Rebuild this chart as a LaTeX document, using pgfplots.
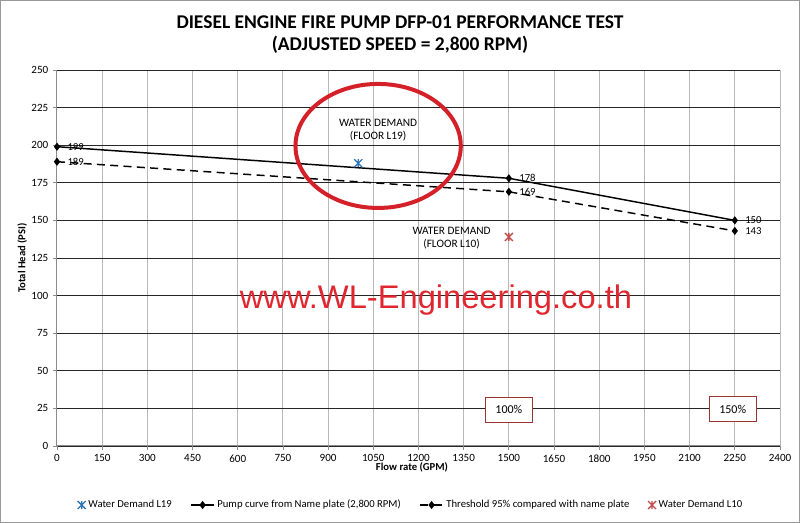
\documentclass[border=0pt]{standalone}
\usepackage{pgfplots}
\pgfplotsset{compat=1.18}
\usepackage{fontspec}
\setmainfont{Carlito}
\newfontfamily\wmfont{Liberation Sans}
\definecolor{bluemk}{HTML}{2E75B6}
\definecolor{redmk}{HTML}{C0504D}
\definecolor{ellred}{HTML}{D42029}
\definecolor{wmred}{HTML}{E0262E}
\definecolor{boxred}{HTML}{953735}
\pgfdeclareplotmark{xstar}{%
 \pgfpathmoveto{\pgfqpoint{-\pgfplotmarksize}{-\pgfplotmarksize}}%
 \pgfpathlineto{\pgfqpoint{\pgfplotmarksize}{\pgfplotmarksize}}%
 \pgfpathmoveto{\pgfqpoint{-\pgfplotmarksize}{\pgfplotmarksize}}%
 \pgfpathlineto{\pgfqpoint{\pgfplotmarksize}{-\pgfplotmarksize}}%
 \pgfpathmoveto{\pgfqpoint{0pt}{-\pgfplotmarksize}}%
 \pgfpathlineto{\pgfqpoint{0pt}{\pgfplotmarksize}}%
 \pgfusepathqstroke}
\begin{document}
\begin{tikzpicture}
\draw[gray!80, line width=1pt] (0.5pt,0.5pt) rectangle (599.5pt,391.75pt);
\path (0,0) rectangle (600pt,392.25pt);
\node[font=\fontsize{14.6}{16}\selectfont\bfseries] at (300pt,375.5pt) {DIESEL ENGINE FIRE PUMP DFP-01 PERFORMANCE TEST};
\node[font=\fontsize{14.6}{16}\selectfont\bfseries] at (300pt,358.5pt) {(ADJUSTED SPEED = 2,800 RPM)};
\begin{axis}[
  at={(42.75pt,57.75pt)}, anchor=south west,
  scale only axis, width=542.25pt, height=282pt,
  xmin=0, xmax=2400, ymin=0, ymax=250,
  xtick={0,150,...,2400}, ytick={0,25,...,250},
  /pgf/number format/1000 sep={},
  /pgf/number format/assume math mode=true,
  tick label style={font=\fontsize{8.3}{9}\selectfont},
  axis x line*=bottom, axis y line*=left,
  axis line style={draw=gray!90, line width=0.75pt},
  tick style={draw=gray!90, line width=0.6pt},
  tick align=outside, major tick length=3pt,
  xmajorgrids, ymajorgrids,
  x grid style={draw=gray!55, line width=0.75pt},
  y grid style={draw=black!85, line width=0.6pt},
  xlabel={Flow rate (GPM)}, ylabel={Total Head (PSI)},
  xlabel style={font=\fontsize{8}{9}\selectfont\bfseries, at={(axis description cs:0.491,-0.058)}, anchor=center},
  ylabel style={font=\fontsize{8}{9}\selectfont\bfseries, at={(axis description cs:-0.048,0.5)}, anchor=center, rotate=0},
  legend columns=4,
  legend style={at={(axis description cs:0.49,-0.157)}, anchor=center, draw=none, fill=none,
    font=\fontsize{8}{9}\selectfont, /tikz/every even column/.append style={column sep=12pt}},
  legend cell align=left,
  clip=false,
]
\addplot[only marks, mark=xstar, mark size=3pt, draw=bluemk, line width=1pt] coordinates {(1000,188)};
\addlegendentry{Water Demand L19}
\addplot[black, line width=1.1pt, mark=diamond*, mark size=2.2pt,
  nodes near coords, point meta=explicit symbolic,
  every node near coord/.style={anchor=west, font=\fontsize{8}{9}\selectfont, xshift=4pt, black}]
  coordinates {(0,199)[199] (1500,178)[178] (2250,150)[150]};
\addlegendentry{Pump curve from Name plate (2,800 RPM)}
\addplot[black, line width=1.1pt, dash pattern=on 6pt off 4pt, mark=diamond*, mark size=2.2pt,
  mark options={solid},
  nodes near coords, point meta=explicit symbolic,
  every node near coord/.style={anchor=west, font=\fontsize{8}{9}\selectfont, xshift=4pt, black}]
  coordinates {(0,189)[189] (1500,169)[169] (2250,143)[143]};
\addlegendentry{Threshold 95\% compared with name plate}
\addplot[only marks, mark=xstar, mark size=3pt, draw=redmk, line width=1pt] coordinates {(1500,139)};
\addlegendentry{Water Demand L10}
\draw[ellred, line width=3pt] (axis cs:1066,199.5) ellipse [x radius=62pt, y radius=46.5pt];
\node[font=\fontsize{8.5}{10}\selectfont, align=center] at (axis cs:1066,210) {WATER DEMAND\\(FLOOR L19)};
\node[font=\fontsize{8.5}{10}\selectfont, align=center] at (axis cs:1310,138) {WATER DEMAND\\(FLOOR L10)};
\node[font=\wmfont\fontsize{24.5}{28}\selectfont, text=wmred] at (axis cs:1258,97) {www.WL-Engineering.co.th};
\node[draw=boxred, fill=white, font=\fontsize{9}{10}\selectfont, minimum width=35pt, minimum height=19pt, line width=0.6pt] at (axis cs:1500,24) {100\%};
\node[draw=boxred, fill=white, font=\fontsize{9}{10}\selectfont, minimum width=35pt, minimum height=19pt, line width=0.6pt] at (axis cs:2243,24.5) {150\%};
\end{axis}
\end{tikzpicture}
\end{document}
